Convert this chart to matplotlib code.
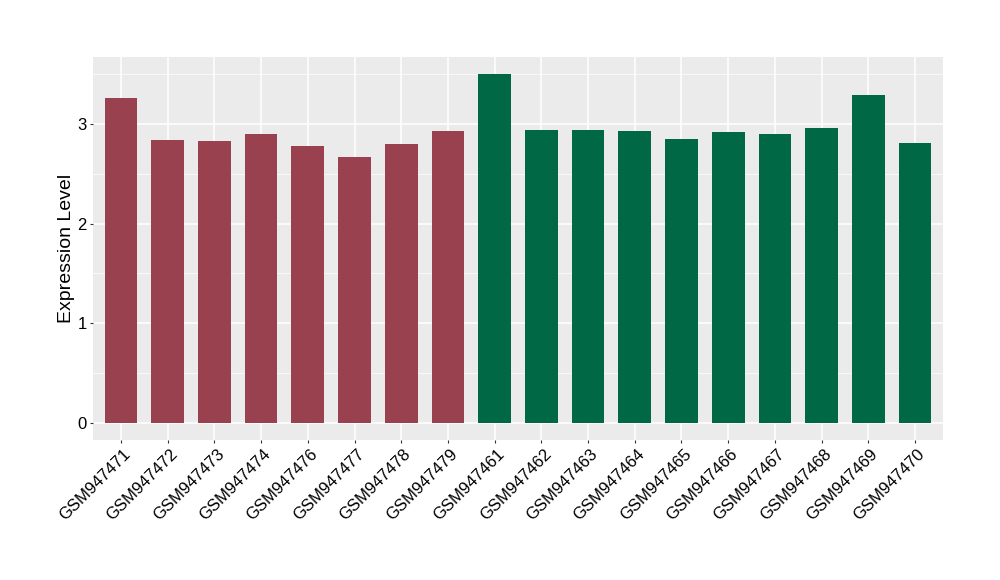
import numpy as np
import matplotlib
matplotlib.use("Agg")
import matplotlib.pyplot as plt
from matplotlib.ticker import MultipleLocator
from matplotlib.transforms import ScaledTranslation

plt.rcParams['font.family'] = ['Liberation Sans', 'DejaVu Sans']

samples = ["GSM947471", "GSM947472", "GSM947473", "GSM947474", "GSM947476",
           "GSM947477", "GSM947478", "GSM947479", "GSM947461", "GSM947462",
           "GSM947463", "GSM947464", "GSM947465", "GSM947466", "GSM947467",
           "GSM947468", "GSM947469", "GSM947470"]
values = [3.26, 2.84, 2.83, 2.90, 2.78, 2.67, 2.80, 2.93, 3.50, 2.94,
          2.94, 2.93, 2.85, 2.92, 2.90, 2.96, 3.29, 2.81]
groups = ["A"] * 8 + ["B"] * 10
group_colors = {"A": "#9A4150", "B": "#006845"}

fig = plt.figure(figsize=(10, 5.8), dpi=100)
ax = fig.add_axes([0.093, 0.241, 0.850, 0.661])
ax.set_facecolor("#EBEBEB")

x = np.arange(1, len(samples) + 1)
ax.bar(x, values, width=0.7, color=[group_colors[g] for g in groups], zorder=3)

ymax = max(values)
ax.set_ylim(-0.05 * ymax, ymax * 1.05)
ax.set_xlim(0.4, len(samples) + 0.6)

ax.yaxis.set_major_locator(MultipleLocator(1))
ax.yaxis.set_minor_locator(MultipleLocator(0.5))
ax.grid(which="major", color="white", linewidth=1.1, zorder=0)
ax.grid(which="minor", axis="y", color="white", linewidth=0.5, zorder=0)
ax.set_axisbelow(True)

ax.set_xticks(x)
ax.set_xticklabels(samples, rotation=45, ha="right", va="top",
                   rotation_mode="anchor", fontsize=12)
ax.tick_params(axis="both", which="major", length=2.5, width=0.8,
               color="#333333", labelsize=12, labelcolor="black", pad=2)
ax.tick_params(axis="y", which="minor", length=0)
# nudge rotated labels a little to the right, like ggplot places them
shift = ScaledTranslation(2 / 100, 0, fig.dpi_scale_trans)
for lbl in ax.get_xticklabels():
    lbl.set_transform(lbl.get_transform() + shift)
for s in ax.spines.values():
    s.set_visible(False)

ax.set_ylabel("Expression Level", fontsize=14, labelpad=2)

fig.savefig("out.png", dpi=100)
